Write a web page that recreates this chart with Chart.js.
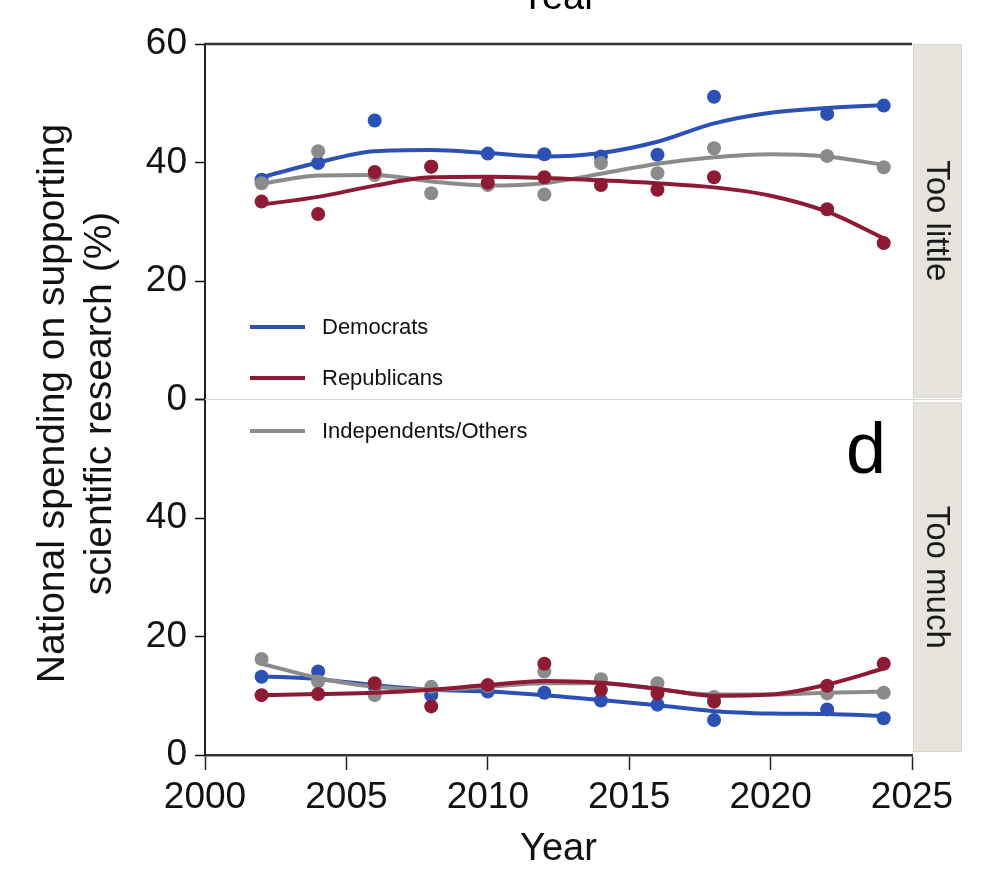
<!DOCTYPE html>
<html>
<head>
<meta charset="utf-8">
<script src="https://cdn.jsdelivr.net/npm/chart.js@4.4.1/dist/chart.umd.min.js"></script>
<style>
  html, body { margin: 0; padding: 0; background: #fff; }
  #wrap { width: 998px; height: 876px; }
</style>
</head>
<body>
<div id="wrap"><canvas id="chart"></canvas></div>
<script>
// survey years with dots
const years = [2002, 2004, 2006, 2008, 2010, 2012, 2014, 2016, 2018, 2022, 2024];

// "Too little" (top panel), %
const demLittle = [37.1, 39.9, 47.1, 39.3, 41.5, 41.4, 41.0, 41.3, 51.1, 48.2, 49.6];
const repLittle = [33.4, 31.3, 38.4, 39.3, 36.6, 37.5, 36.2, 35.4, 37.5, 32.1, 26.4];
const indLittle = [36.5, 41.9, 37.9, 34.8, 36.2, 34.6, 39.9, 38.2, 42.4, 41.1, 39.2];

// "Too much" (bottom panel), %
const demMuch = [13.2, 14.1, 11.5, 10.1, 10.7, 10.5, 9.2, 8.5, 5.9, 7.7, 6.2];
const repMuch = [10.1, 10.3, 12.1, 8.2, 11.8, 15.4, 11.0, 10.4, 9.0, 11.7, 15.4];
const indMuch = [16.2, 12.4, 10.1, 11.5, 11.6, 14.1, 12.8, 12.1, 9.8, 10.4, 10.5];

// smoothed trend lines
const fitYears = [2002, 2004, 2006, 2008, 2010, 2012, 2014, 2016, 2018, 2020, 2022, 2024];
const demLittleFit = [37.5, 40.0, 41.9, 42.1, 41.6, 41.0, 41.6, 43.5, 46.6, 48.4, 49.2, 49.7];
const repLittleFit = [32.9, 34.2, 36.1, 37.5, 37.6, 37.4, 37.0, 36.5, 35.8, 34.4, 31.7, 27.2];
const indLittleFit = [36.4, 37.8, 37.9, 36.8, 36.1, 36.5, 38.1, 39.8, 40.9, 41.4, 41.0, 39.6];
const demMuchFit = [13.3, 12.8, 11.8, 11.0, 10.7, 10.1, 9.3, 8.4, 7.4, 7.0, 6.9, 6.6];
const repMuchFit = [10.1, 10.3, 10.5, 11.0, 11.8, 12.5, 12.2, 11.2, 10.0, 10.2, 11.9, 14.6];
const indMuchFit = [15.4, 13.0, 11.5, 11.0, 11.5, 12.1, 12.1, 11.1, 10.2, 10.2, 10.5, 10.7];

const xTicks = [2000, 2005, 2010, 2015, 2020, 2025];
const yTicks = [0, 20, 40, 60];
const panelLabels = ['Too little', 'Too much'];
const partyNames = ['Democrats', 'Republicans', 'Independents/Others'];

const BLUE = '#2c51b5';
const RED = '#8e1a34';
const GREY = '#8b8b8b';
const FONT = '"Liberation Sans", Arial, Helvetica, sans-serif';

const toXY = (xs, ys) => xs.map((x, i) => ({x: x, y: ys[i]}));

const dots = (label, vals, color, axis) => ({
  label: label,
  data: toXY(years, vals),
  yAxisID: axis,
  showLine: false,
  pointRadius: 7,
  pointBorderWidth: 0,
  pointBackgroundColor: color,
  borderColor: color
});
const fit = (label, vals, color, axis) => ({
  label: label,
  data: toXY(fitYears, vals),
  yAxisID: axis,
  borderColor: color,
  borderWidth: 4,
  pointRadius: 0,
  cubicInterpolationMode: 'monotone',
  fill: false
});

// first dataset is drawn on top: red, then grey, then blue
const datasets = [
  dots(partyNames[1], repLittle, RED, 'yTop'),
  fit(partyNames[1], repLittleFit, RED, 'yTop'),
  dots(partyNames[1], repMuch, RED, 'yBot'),
  fit(partyNames[1], repMuchFit, RED, 'yBot'),
  dots(partyNames[2], indLittle, GREY, 'yTop'),
  fit(partyNames[2], indLittleFit, GREY, 'yTop'),
  dots(partyNames[2], indMuch, GREY, 'yBot'),
  fit(partyNames[2], indMuchFit, GREY, 'yBot'),
  dots(partyNames[0], demLittle, BLUE, 'yTop'),
  fit(partyNames[0], demLittleFit, BLUE, 'yTop'),
  dots(partyNames[0], demMuch, BLUE, 'yBot'),
  fit(partyNames[0], demMuchFit, BLUE, 'yBot')
];

const yAxis = (weight, hideTop) => ({
  type: 'linear',
  position: 'left',
  stack: 'panels',
  stackWeight: 1,
  weight: weight,
  min: 0,
  max: 60,
  afterBuildTicks: s => { s.ticks = yTicks.map(v => ({value: v})); },
  afterFit: s => { s.width = 205; },
  grid: {drawOnChartArea: false, drawTicks: true, tickLength: 10, tickColor: '#111', tickWidth: 1.5},
  border: {color: '#222', width: 2},
  ticks: {
    color: '#111',
    padding: 8,
    font: {family: FONT, size: 37},
    callback: v => (hideTop && v === 60) ? '' : String(v)
  }
});

const decor = {
  id: 'decor',
  beforeDatasetsDraw(chart) {
    const {ctx, chartArea: a, scales} = chart;
    const yMid = scales.yTop.bottom;
    ctx.save();
    ctx.strokeStyle = '#d9d9d9';
    ctx.lineWidth = 1.2;
    ctx.beginPath();
    ctx.moveTo(a.left, yMid);
    ctx.lineTo(a.right + 50, yMid);
    ctx.stroke();
    ctx.restore();
  },
  afterDraw(chart) {
    const {ctx, chartArea: a, scales} = chart;
    const top = scales.yTop, bot = scales.yBot;
    ctx.save();

    // frame line along the top
    ctx.strokeStyle = '#333';
    ctx.lineWidth = 2.5;
    ctx.beginPath();
    ctx.moveTo(a.left, a.top);
    ctx.lineTo(a.right, a.top);
    ctx.stroke();

    // facet strips
    const strips = [[top.top, top.bottom - 2], [bot.top + 3, bot.bottom - 3]];
    strips.forEach((s, i) => {
      ctx.fillStyle = '#e6e4dc';
      ctx.fillRect(a.right + 1, s[0], 49, s[1] - s[0]);
      ctx.strokeStyle = '#d6d4cb';
      ctx.lineWidth = 1;
      ctx.strokeRect(a.right + 1.5, s[0] + 0.5, 48, s[1] - s[0] - 1);
      ctx.save();
      ctx.translate(a.right + 24, (s[0] + s[1]) / 2);
      ctx.rotate(Math.PI / 2);
      ctx.fillStyle = '#1a1a1a';
      ctx.font = '33px ' + FONT;
      ctx.textAlign = 'center';
      ctx.textBaseline = 'middle';
      ctx.fillText(panelLabels[i], 0, 0);
      ctx.restore();
    });

    // legend inside plot
    const colors = [BLUE, RED, GREY];
    const ly = [327, 378, 431];
    ctx.font = '22px ' + FONT;
    ctx.textBaseline = 'middle';
    ctx.textAlign = 'left';
    partyNames.forEach((n, i) => {
      ctx.strokeStyle = colors[i];
      ctx.lineWidth = 4;
      ctx.beginPath();
      ctx.moveTo(a.left + 45, ly[i]);
      ctx.lineTo(a.left + 100, ly[i]);
      ctx.stroke();
      ctx.fillStyle = '#111';
      ctx.fillText(n, a.left + 117, ly[i] + 1);
    });

    // panel letter
    ctx.font = '72px ' + FONT;
    ctx.textAlign = 'right';
    ctx.textBaseline = 'alphabetic';
    ctx.fillStyle = '#000';
    ctx.fillText('d', a.right - 26, 473);

    // y axis title (two lines)
    ctx.save();
    ctx.translate(0, (a.top + a.bottom) / 2 + 4);
    ctx.rotate(-Math.PI / 2);
    ctx.font = '39px ' + FONT;
    ctx.textAlign = 'center';
    ctx.textBaseline = 'middle';
    ctx.fillStyle = '#111';
    ctx.fillText('National spending on supporting', 0, 53);
    ctx.fillText('scientific research (%)', 0, 100);
    ctx.restore();

    // axis title of the panel above, cut off at the top edge
    ctx.font = '38px ' + FONT;
    ctx.textAlign = 'center';
    ctx.textBaseline = 'alphabetic';
    ctx.fillText('Year', (a.left + a.right) / 2, 9);

    ctx.restore();
  }
};

new Chart(document.getElementById('chart'), {
  type: 'line',
  data: {datasets: datasets},
  options: {
    responsive: true,
    maintainAspectRatio: false,
    animation: false,
    layout: {padding: {left: 0, right: 86, top: 44, bottom: 0}},
    plugins: {legend: {display: false}, tooltip: {enabled: false}},
    scales: {
      x: {
        type: 'linear',
        min: 2000,
        max: 2025,
        afterBuildTicks: s => { s.ticks = xTicks.map(v => ({value: v})); },
        afterFit: s => { s.height = 121; },
        grid: {drawOnChartArea: false, drawTicks: true, tickLength: 15, tickColor: '#222', tickWidth: 1.5},
        border: {color: '#333', width: 2.5},
        ticks: {color: '#111', padding: 6, font: {family: FONT, size: 37}, callback: v => String(v)},
        title: {display: true, text: 'Year', color: '#111', font: {family: FONT, size: 38}, padding: {top: 0, bottom: 4}}
      },
      yTop: yAxis(2, false),
      yBot: yAxis(1, true)
    }
  },
  plugins: [decor]
});
</script>
</body>
</html>
